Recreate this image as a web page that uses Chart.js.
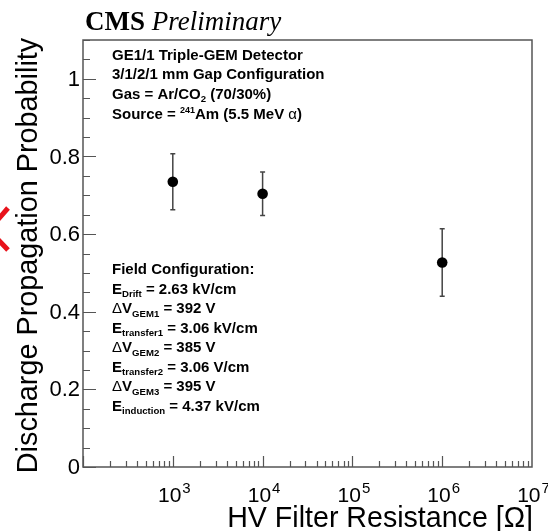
<!DOCTYPE html>
<html>
<head>
<meta charset="utf-8">
<script src="https://cdn.jsdelivr.net/npm/chart.js@4.4.0/dist/chart.umd.min.js"></script>
<style>
  html, body { margin: 0; padding: 0; background: #fff; }
  canvas { display: block; }
</style>
</head>
<body>
<canvas id="chart" width="548" height="531"></canvas>
<script>
// discharge propagation probability vs HV filter resistance
const resistance = [1e3, 1e4, 1e6];
const probability = [0.735, 0.704, 0.527];
const probError = [0.072, 0.056, 0.087];

const yTickLabels = [0, 0.2, 0.4, 0.6, 0.8, 1];
const xTickExponents = [3, 4, 5, 6, 7];

// rich text lines: [text, kind] where kind is undefined, 'sub', 'sup' or 'sym'
const infoLines = [
    [["GE1/1 Triple-GEM Detector"]],
    [["3/1/2/1 mm Gap Configuration"]],
    [["Gas = Ar/CO"], ["2", "sub"], [" (70/30%)"]],
    [["Source = "], ["241", "sup"], ["Am (5.5 MeV "], ["α", "sym"], [")"]],
];
const fieldLines = [
    [["Field Configuration:"]],
    [["E"], ["Drift", "sub"], [" = 2.63 kV/cm"]],
    [["Δ", "sym"], ["V"], ["GEM1", "sub"], [" = 392 V"]],
    [["E"], ["transfer1", "sub"], [" = 3.06 kV/cm"]],
    [["Δ", "sym"], ["V"], ["GEM2", "sub"], [" = 385 V"]],
    [["E"], ["transfer2", "sub"], [" = 3.06 V/cm"]],
    [["Δ", "sym"], ["V"], ["GEM3", "sub"], [" = 395 V"]],
    [["E"], ["induction", "sub"], [" = 4.37 kV/cm"]],
];

const SANS = "'Liberation Sans', Arial, Helvetica, sans-serif";
const SERIF = "'Liberation Serif', 'Times New Roman', serif";

function drawRich(ctx, segs, x, y, size) {
    let cx = x;
    segs.forEach(([text, kind]) => {
        let dy = 0;
        if (kind === 'sub') { ctx.font = `bold ${size * 0.64}px ${SANS}`; dy = 3.5; }
        else if (kind === 'sup') { ctx.font = `bold ${size * 0.6}px ${SANS}`; dy = -6; }
        else if (kind === 'sym') { ctx.font = `${size}px ${SANS}`; }
        else { ctx.font = `bold ${size}px ${SANS}`; }
        ctx.fillText(text, cx, y + dy);
        cx += ctx.measureText(text).width;
    });
}

const rootStyle = {
    id: 'rootStyle',
    beforeDatasetsDraw(chart) {
        const { ctx, scales: { x, y } } = chart;
        ctx.save();
        // error bars
        ctx.strokeStyle = '#444';
        ctx.lineWidth = 1.5;
        resistance.forEach((r, i) => {
            const px = x.getPixelForValue(r);
            const top = y.getPixelForValue(probability[i] + probError[i]);
            const bot = y.getPixelForValue(probability[i] - probError[i]);
            ctx.beginPath();
            ctx.moveTo(px, top); ctx.lineTo(px, bot);
            ctx.moveTo(px - 2.5, top); ctx.lineTo(px + 2.5, top);
            ctx.moveTo(px - 2.5, bot); ctx.lineTo(px + 2.5, bot);
            ctx.stroke();
        });
        ctx.restore();
    },
    afterDraw(chart) {
        const { ctx, chartArea: a, scales: { x, y } } = chart;
        ctx.save();

        // frame
        ctx.strokeStyle = '#555';
        ctx.lineWidth = 1.5;
        ctx.strokeRect(a.left, a.top, a.right - a.left, a.bottom - a.top);

        // y ticks, inward, minor every 0.05
        ctx.beginPath();
        for (let k = 0; k * 0.05 <= y.max + 1e-9; k++) {
            const py = Math.round(y.getPixelForValue(k * 0.05)) + 0.5;
            const len = k % 4 === 0 ? 13 : 7;
            ctx.moveTo(a.left, py); ctx.lineTo(a.left + len, py);
        }
        // x ticks, log decades
        for (let e = Math.log10(x.min); e < Math.log10(x.max); e++) {
            for (let m = 1; m <= 9; m++) {
                const px = Math.round(x.getPixelForValue(m * Math.pow(10, e))) + 0.5;
                const len = m === 1 ? 11 : 6;
                ctx.moveTo(px, a.bottom); ctx.lineTo(px, a.bottom - len);
            }
        }
        ctx.lineWidth = 1.2;
        ctx.stroke();

        // y tick labels
        ctx.fillStyle = '#000';
        ctx.font = `22px ${SANS}`;
        ctx.textAlign = 'right';
        ctx.textBaseline = 'middle';
        yTickLabels.forEach(v => {
            ctx.fillText(String(v), a.left - 3, y.getPixelForValue(v) + 1);
        });

        // x tick labels 10^n
        ctx.textAlign = 'left';
        ctx.textBaseline = 'alphabetic';
        xTickExponents.forEach(n => {
            const px = x.getPixelForValue(Math.pow(10, n));
            ctx.font = `21px ${SANS}`;
            const w1 = ctx.measureText('10').width;
            ctx.font = `15px ${SANS}`;
            const w2 = ctx.measureText(String(n)).width;
            const x0 = px - (w1 + w2) / 2 + 1;
            ctx.font = `21px ${SANS}`;
            ctx.fillText('10', x0, 502);
            ctx.font = `15px ${SANS}`;
            ctx.fillText(String(n), x0 + w1 + 1, 493);
        });

        // axis titles
        ctx.font = `28.6px ${SANS}`;
        ctx.textAlign = 'right';
        ctx.fillText('HV Filter Resistance [Ω]', a.right + 1, 527);
        ctx.save();
        ctx.translate(37, (a.top + a.bottom) / 2 + 2);
        ctx.rotate(-Math.PI / 2);
        ctx.textAlign = 'center';
        ctx.font = `28.8px ${SANS}`;
        ctx.fillText('Discharge Propagation Probability', 0, 0);
        ctx.restore();

        // CMS Preliminary
        ctx.textAlign = 'left';
        ctx.font = `bold 27px ${SERIF}`;
        ctx.fillText('CMS', 85, 29.5);
        const wc = ctx.measureText('CMS ').width;
        ctx.font = `italic 27px ${SERIF}`;
        ctx.fillText('Preliminary', 85 + wc, 29.5);

        // info blocks
        infoLines.forEach((segs, i) => drawRich(ctx, segs, 112, 59.5 + i * 19.7, 15));
        fieldLines.forEach((segs, i) => drawRich(ctx, segs, 112, 274 + i * 19.5, 15));

        // red mark at the left edge
        ctx.strokeStyle = '#e8121b';
        ctx.lineWidth = 5;
        ctx.beginPath();
        ctx.moveTo(-12, 231); ctx.lineTo(8, 208);
        ctx.moveTo(-12, 229); ctx.lineTo(8, 250);
        ctx.stroke();

        ctx.restore();
    }
};

const ctx = document.getElementById('chart').getContext('2d');
new Chart(ctx, {
    type: 'scatter',
    data: {
        datasets: [{
            data: resistance.map((r, i) => ({ x: r, y: probability[i] })),
            pointRadius: 5.3,
            pointHoverRadius: 5.3,
            backgroundColor: '#000',
            borderWidth: 0,
        }]
    },
    options: {
        responsive: false,
        animation: false,
        devicePixelRatio: 1,
        layout: { padding: { left: 0, top: 40, right: 16, bottom: 0 } },
        plugins: { legend: { display: false }, tooltip: { enabled: false } },
        scales: {
            x: {
                type: 'logarithmic',
                min: 100,
                max: 1e7,
                ticks: { display: false },
                grid: { display: false },
                border: { display: false },
                afterFit: s => { s.height = 64; },
            },
            y: {
                min: 0,
                max: 1.1,
                ticks: { display: false },
                grid: { display: false },
                border: { display: false },
                afterFit: s => { s.width = 83; },
            }
        }
    },
    plugins: [rootStyle]
});
</script>
</body>
</html>
